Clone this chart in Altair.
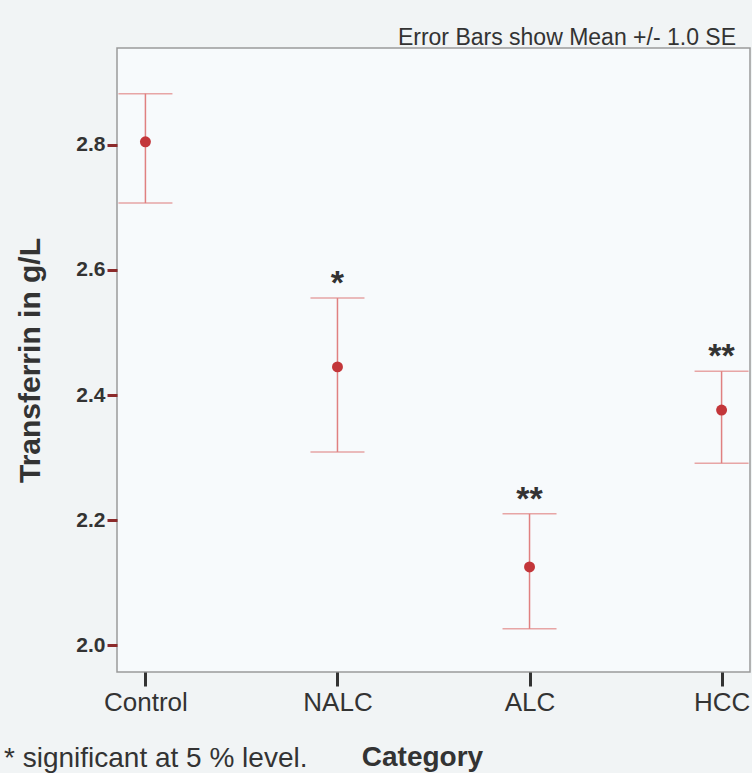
import altair as alt
import pandas as pd

categories = ["Control", "NALC", "ALC", "HCC"]
means = [2.805, 2.445, 2.125, 2.376]
lowers = [2.707, 2.309, 2.026, 2.291]
uppers = [2.882, 2.555, 2.210, 2.438]
stars = ["", "*", "**", "**"]
y_ticks = [2.0, 2.2, 2.4, 2.6, 2.8]
footnote = ["*  significant at 5 % level."]
subtitle = ["Error Bars show Mean +/- 1.0 SE"]

df = pd.DataFrame({"cat": categories, "mean": means, "lo": lowers, "hi": uppers, "star": stars})

FONT = "Liberation Sans"
TXT = "#333333"
ERR = "#e08080"

x_enc = alt.X("cat:N", sort=categories,
              scale=alt.Scale(type="point", padding=0.148),
              axis=alt.Axis(title="Category", titleFontSize=28, titleFontWeight="bold", titleFont=FONT,
                            titleColor=TXT, titleX=305, titleY=93, titleAlign="center",
                            titleBaseline="alphabetic",
                            labelFontSize=26, labelFont=FONT, labelColor=TXT, labelAngle=0,
                            labelPadding=3, tickSize=14, tickWidth=3, tickColor=TXT,
                            domain=False, grid=False))
y_scale = alt.Scale(domain=[1.957, 2.955], nice=False, zero=False)

base = alt.Chart(df)

rule = base.mark_rule(color=ERR, strokeWidth=1.5).encode(
    x=x_enc,
    y=alt.Y("lo:Q", scale=y_scale,
            axis=alt.Axis(title="Transferrin in g/L", values=y_ticks, format=".1f",
                          titleFontSize=30, titleFontWeight="bold", titleFont=FONT, titleColor=TXT,
                          titlePadding=30,
                          labelFontSize=21, labelFontWeight="bold", labelFont=FONT, labelColor=TXT,
                          labelPadding=2, tickSize=10, tickWidth=3, tickColor="#8b2a2a",
                          domain=False, grid=False)),
    y2="hi:Q",
)
cap_lo = base.mark_tick(color=ERR, thickness=1.5, size=54, orient="horizontal").encode(
    x=alt.X("cat:N", sort=categories), y=alt.Y("lo:Q", scale=y_scale))
cap_hi = base.mark_tick(color=ERR, thickness=1.5, size=54, orient="horizontal").encode(
    x=alt.X("cat:N", sort=categories), y=alt.Y("hi:Q", scale=y_scale))
pts = base.mark_point(filled=True, size=120, color="#c3363a", opacity=1).encode(
    x=alt.X("cat:N", sort=categories), y=alt.Y("mean:Q", scale=y_scale))
star_txt = base.mark_text(font=FONT, fontSize=34, fontWeight="bold", color=TXT,
                          baseline="alphabetic", dy=-4).encode(
    x=alt.X("cat:N", sort=categories), y=alt.Y("hi:Q", scale=y_scale), text="star:N")
foot = alt.Chart(pd.DataFrame({"t": footnote})).mark_text(
    font=FONT, fontSize=28, color=TXT, align="left", baseline="alphabetic").encode(
    x=alt.value(-113), y=alt.value(719), text="t:N")
sub = alt.Chart(pd.DataFrame({"t": subtitle})).mark_text(
    font=FONT, fontSize=23, color=TXT, align="right", baseline="alphabetic").encode(
    x=alt.value(619), y=alt.value(-3), text="t:N")

chart = alt.layer(rule, cap_lo, cap_hi, pts, star_txt, foot, sub).properties(
    width=633, height=624,
    padding={"left": 117, "top": 48, "right": 2, "bottom": 101},
    autosize=alt.AutoSizeParams(type="none"),
).configure(background="#f1f4f5").configure_view(fill="#f7fafc", stroke="#9a9a9a", strokeWidth=1.5)

chart.save("out.html", embed_options={"renderer": "svg", "actions": False})
